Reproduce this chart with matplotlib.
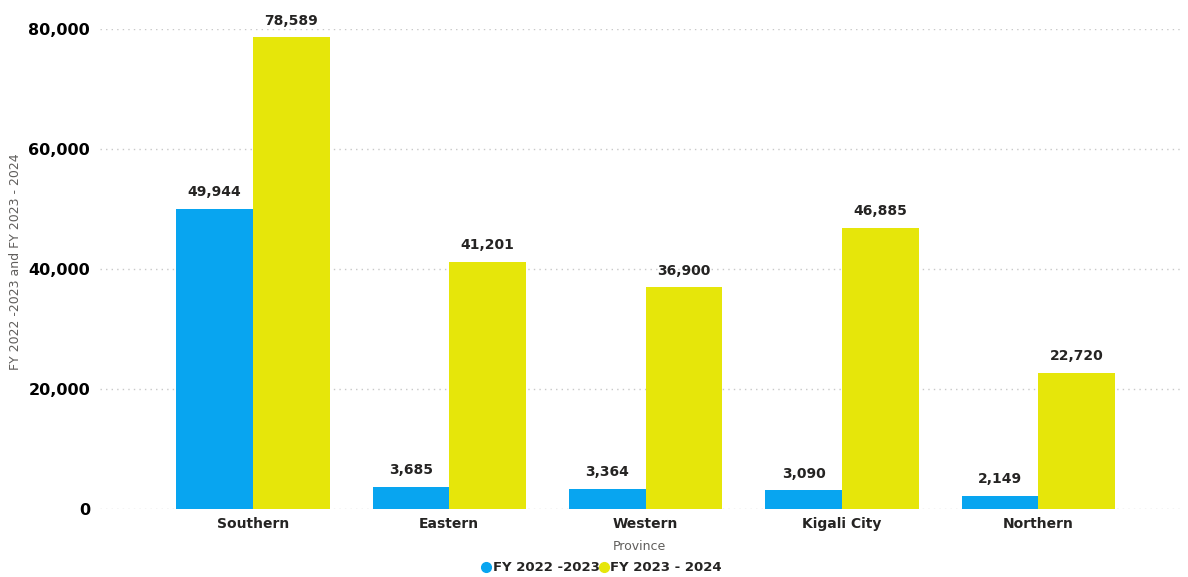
import matplotlib.pyplot as plt
import numpy as np
from matplotlib.ticker import FuncFormatter
from matplotlib.lines import Line2D

# province totals per fiscal year
provinces = ["Southern", "Eastern", "Western", "Kigali City", "Northern"]
fy_2022_2023 = [49944, 3685, 3364, 3090, 2149]
fy_2023_2024 = [78589, 41201, 36900, 46885, 22720]
series_names = ["FY 2022 -2023", "FY 2023 - 2024"]

BLUE = "#08A5F0"
YELLOW = "#E6E60A"
TEXT_DARK = "#252423"
TEXT_GRAY = "#605E5C"

fig = plt.figure(figsize=(11.88, 5.77), dpi=100)
ax = fig.add_axes([0.084, 0.118, 0.909, 0.832])

x = np.arange(len(provinces))
width = 0.39

bars_a = ax.bar(x - width / 2, fy_2022_2023, width, color=BLUE, zorder=3)
bars_b = ax.bar(x + width / 2, fy_2023_2024, width, color=YELLOW, zorder=3)

for bars in (bars_a, bars_b):
    for b in bars:
        ax.annotate(f"{b.get_height():,.0f}",
                    (b.get_x() + b.get_width() / 2, b.get_height()),
                    xytext=(0, 7), textcoords="offset points",
                    ha="center", va="bottom", fontsize=10, fontweight="bold",
                    color=TEXT_DARK, clip_on=False)

ax.set_ylim(0, 80000)
ax.set_xlim(-0.78, 4.72)
ax.set_yticks([0, 20000, 40000, 60000, 80000])
ax.yaxis.set_major_formatter(FuncFormatter(lambda v, p: f"{v:,.0f}"))
ax.set_xticks(x)
ax.set_xticklabels(provinces, fontsize=10, fontweight="bold", color=TEXT_DARK)
for lbl in ax.get_yticklabels():
    lbl.set_fontsize(11.5)
    lbl.set_fontweight("bold")
    lbl.set_color("black")

ax.tick_params(axis="both", length=0)
ax.tick_params(axis="y", pad=7)
ax.tick_params(axis="x", pad=6)
ax.grid(axis="y", linestyle=(0, (1, 3)), color="#C8C8C8", linewidth=1, zorder=0)
for s in ax.spines.values():
    s.set_visible(False)

ax.set_xlabel("Province", fontsize=9, color=TEXT_GRAY, labelpad=6)
# y title sits at the far left edge of the figure
fig.text(16 / 1188, 1 - 262 / 577, "FY 2022 -2023 and FY 2023 - 2024",
         rotation=90, ha="center", va="center", fontsize=9,
         color=TEXT_GRAY)

handles = [Line2D([], [], marker="o", linestyle="", markersize=7, color=c)
           for c in (BLUE, YELLOW)]
fig.legend(handles, series_names, loc="center", bbox_to_anchor=(0.505, 0.016),
           ncol=2, frameon=False, handletextpad=-0.1, columnspacing=-0.3,
           handlelength=1.2, prop={"size": 9.5, "weight": "bold"},
           labelcolor=TEXT_DARK)

fig.savefig("out.png", dpi=100)
